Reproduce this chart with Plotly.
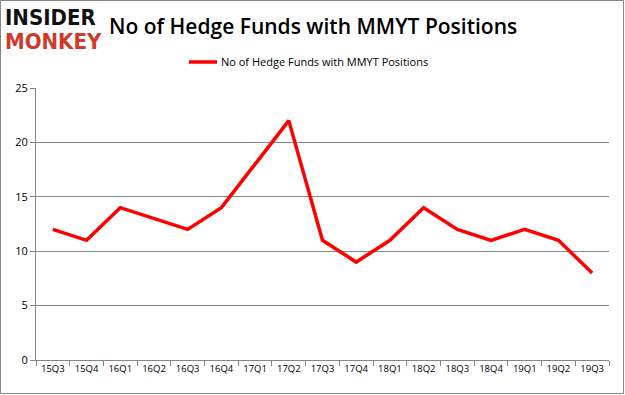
import plotly.graph_objects as go

quarters = ["15Q3", "15Q4", "16Q1", "16Q2", "16Q3", "16Q4", "17Q1", "17Q2", "17Q3",
            "17Q4", "18Q1", "18Q2", "18Q3", "18Q4", "19Q1", "19Q2", "19Q3"]
funds = [12, 11, 14, 13, 12, 14, 18, 22, 11, 9, 11, 14, 12, 11, 12, 11, 8]
series_name = "No of Hedge Funds with MMYT Positions"
y_ticks = [0, 5, 10, 15, 20, 25]

W, H = 625, 395
L, R, T, B = 36, 16, 88, 35
pw, ph = W - L - R, H - T - B

def px(x):
    return (x - L) / pw

def py(y):
    return (H - B - y) / ph

fig = go.Figure()
fig.add_trace(go.Scatter(
    x=quarters, y=funds, mode="lines", name=series_name,
    line=dict(color="#FF0000", width=3.5), showlegend=False,
))

fig.update_layout(
    width=W, height=H,
    margin=dict(l=L, r=R, t=T, b=B, autoexpand=False),
    paper_bgcolor="white", plot_bgcolor="white",
    font=dict(family="Open Sans", size=10, color="#000000"),
    showlegend=False,
    xaxis=dict(type="category", showgrid=False, showline=True, linecolor="#868686",
               linewidth=1, ticks="outside", ticklen=5, tickcolor="#868686",
               tickson="boundaries", tickangle=0,
               tickfont=dict(family="Open Sans", size=9.5, color="#000000"),
               range=[-0.5, len(quarters) - 0.5], automargin=False),
    yaxis=dict(range=[0, 25], tickvals=y_ticks, showgrid=True, gridcolor="#868686",
               gridwidth=1, showline=True, linecolor="#868686", linewidth=1,
               ticks="outside", ticklen=5, tickcolor="#868686", zeroline=False,
               tickfont=dict(family="Open Sans", size=11, color="#000000"),
               automargin=False),
)

# legend (drawn manually so it does not change the plot area)
fig.add_shape(type="line", xref="paper", yref="paper",
              x0=px(189), x1=px(217), y0=py(62), y1=py(62),
              line=dict(color="#FF0000", width=3.5))
fig.add_annotation(text=series_name, xref="paper", yref="paper",
                   x=px(219), y=py(62), xanchor="left", yanchor="middle", showarrow=False,
                   font=dict(family="Open Sans", size=11, color="#000000"))

fig.add_annotation(text="No of Hedge Funds with MMYT Positions", xref="paper", yref="paper",
                   x=px(313), y=py(26), xanchor="center", yanchor="middle", showarrow=False,
                   font=dict(family="Open Sans", size=21, color="#000000", weight=600))
fig.add_annotation(text="<b>INSIDER</b>", xref="paper", yref="paper",
                   x=px(3), y=py(17), xanchor="left", yanchor="middle", showarrow=False,
                   font=dict(family="DejaVu Sans Condensed", size=22, color="#111111"))
fig.add_annotation(text="<b>MONKEY</b>", xref="paper", yref="paper",
                   x=px(3), y=py(42), xanchor="left", yanchor="middle", showarrow=False,
                   font=dict(family="DejaVu Sans Condensed", size=22, color="#D0392B"))
fig.add_shape(type="rect", xref="paper", yref="paper",
              x0=px(0.5), x1=px(623.5), y0=py(0.5), y1=py(393.5),
              line=dict(color="#868686", width=1), fillcolor="rgba(0,0,0,0)", layer="below")

fig.write_html("out.html", config={"displayModeBar": False},
               post_script="document.body.style.margin='0';")
